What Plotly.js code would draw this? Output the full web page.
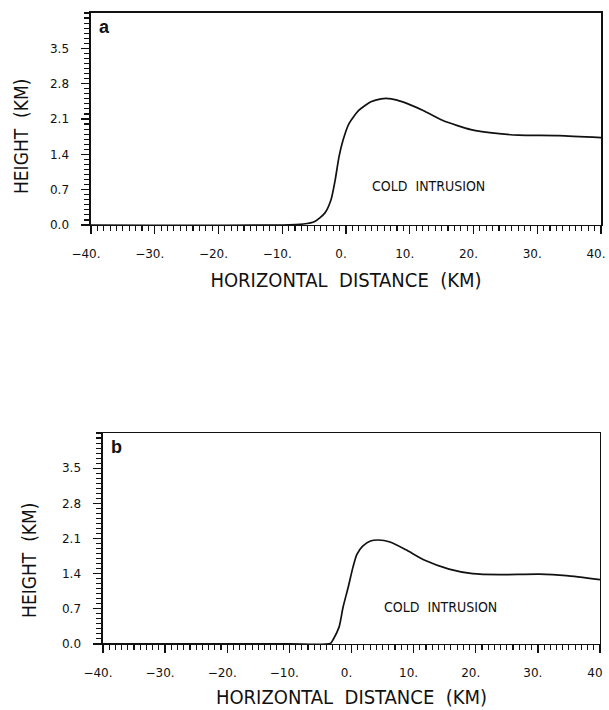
<!DOCTYPE html>
<html><head><meta charset="utf-8">
<script src="https://cdn.plot.ly/plotly-3.0.1.min.js"></script>
<style>body{margin:0;padding:0;background:#fff}#chart{width:609px;height:710px}</style>
</head><body><div id="chart"></div>
<script>
// Panel a: interface height (km) vs horizontal distance (km)
const xA = [-40, -10, -6.7, -4.9, -3.3, -2.35, -1.7, -1.1, -0.47, 0.47, 2.0, 3.9, 5.5, 7.1, 8.9, 12.1, 15.2, 19.6, 24.0, 27.1, 33.4, 40];
const yA = [0, 0, 0.02, 0.07, 0.24, 0.5, 0.89, 1.35, 1.68, 2.01, 2.27, 2.44, 2.50, 2.50, 2.44, 2.27, 2.07, 1.89, 1.81, 1.78, 1.77, 1.73];
// Panel b
const xB = [-40, -10, -3.4, -2.94, -1.99, -1.36, -0.54, 0.22, 0.85, 1.8, 3.06, 4.3, 6.2, 8.7, 11.9, 15.7, 19.5, 23.9, 30.2, 34.6, 40];
const yB = [0, 0, 0.01, 0.09, 0.34, 0.73, 1.125, 1.52, 1.78, 1.95, 2.05, 2.07, 2.03, 1.88, 1.66, 1.49, 1.40, 1.38, 1.39, 1.36, 1.28];

const xTickVals = [-40, -30, -20, -10, 0, 10, 20, 30, 40];
const xTickTextA = ['\u221240.', '\u221230.', '\u221220.', '\u221210.', '0.', '10.', '20.', '30.', '40.'];
const xTickTextB = ['\u221240.', '\u221230.', '\u221220.', '\u221210.', '0.', '10.', '20.', '30.', '40'];
const yTickVals = [0, 0.7, 1.4, 2.1, 2.8, 3.5];
const yTickText = ['0.0', '0.7', '1.4', '2.1', '2.8', '3.5'];
const xTitle = 'HORIZONTAL  DISTANCE  (KM)';
const yTitle = 'HEIGHT  (KM)';
const regionLabel = 'COLD  INTRUSION';

const narrow = 'DejaVu Sans Condensed, Liberation Sans Narrow, sans-serif';
const tickFamily = 'DejaVu Sans, sans-serif';
const ink = '#111';

function xax(domain, anchor, ticktext, standoff) {
  return {
    domain: domain, anchor: anchor, range: [-40, 40],
    tickmode: 'array', tickvals: xTickVals, ticktext: ticktext,
    ticks: 'outside', ticklen: 8, tickwidth: 1.3, tickcolor: ink,
    ticklabelstandoff: 9, ticklabelshift: -5, ticklabeloverflow: 'allow',
    minor: {tickmode: 'linear', tick0: 0, dtick: 1, ticks: 'outside', ticklen: 5, tickwidth: 1.1, tickcolor: ink},
    showline: true, linecolor: ink, linewidth: 1.5, mirror: true,
    showgrid: false, zeroline: false,
    tickfont: {family: tickFamily, size: 12, color: ink},
    title: {text: xTitle, font: {family: narrow, size: 20, color: ink}, standoff: standoff}
  };
}
function yax(domain, anchor) {
  return {
    domain: domain, anchor: anchor, range: [0, 4.2],
    tickmode: 'array', tickvals: yTickVals, ticktext: yTickText,
    ticks: 'outside', ticklen: 8, tickwidth: 1.3, tickcolor: ink,
    ticklabelstandoff: 10,
    minor: {tickmode: 'linear', tick0: 0, dtick: 0.1, ticks: 'outside', ticklen: 5, tickwidth: 1.1, tickcolor: ink},
    showline: true, linecolor: ink, linewidth: 1.5, mirror: true,
    showgrid: false, zeroline: false,
    tickfont: {family: tickFamily, size: 12, color: ink}
  };
}

const traces = [
  {x: xA, y: yA, xaxis: 'x', yaxis: 'y', mode: 'lines', line: {color: ink, width: 1.7, shape: 'spline', smoothing: 0.6}, showlegend: false},
  {x: xB, y: yB, xaxis: 'x2', yaxis: 'y2', mode: 'lines', line: {color: ink, width: 1.7, shape: 'spline', smoothing: 0.6}, showlegend: false}
];

const layout = {
  width: 609, height: 710,
  margin: {l: 0, r: 0, t: 0, b: 0},
  paper_bgcolor: '#fff', plot_bgcolor: '#fff',
  font: {family: narrow, color: ink},
  xaxis: xax([0.1494, 0.9869], 'y', xTickTextA, 13),
  yaxis: yax([0.6831, 0.9817], 'x'),
  xaxis2: xax([0.1691, 0.9852], 'y2', xTickTextB, 11),
  yaxis2: yax([0.0930, 0.3901], 'x2'),
  annotations: [
    {text: yTitle, xref: 'paper', yref: 'paper', x: 0.0345, y: 0.807, textangle: -90, showarrow: false, xanchor: 'center', yanchor: 'middle', font: {family: narrow, size: 19, color: ink}},
    {text: yTitle, xref: 'paper', yref: 'paper', x: 0.0476, y: 0.2113, textangle: -90, showarrow: false, xanchor: 'center', yanchor: 'middle', font: {family: narrow, size: 19, color: ink}},
    {text: '<b>a</b>', xref: 'x domain', yref: 'y domain', x: 0.012, y: 0.99, xanchor: 'left', yanchor: 'top', showarrow: false, font: {family: 'Liberation Sans, Arial, sans-serif', size: 18, color: ink}},
    {text: '<b>b</b>', xref: 'x2 domain', yref: 'y2 domain', x: 0.012, y: 0.99, xanchor: 'left', yanchor: 'top', showarrow: false, font: {family: 'Liberation Sans, Arial, sans-serif', size: 18, color: ink}},
    {text: regionLabel, xref: 'x', yref: 'y', x: 13, y: 0.77, showarrow: false, font: {family: narrow, size: 14, color: ink}},
    {text: regionLabel, xref: 'x2', yref: 'y2', x: 14.3, y: 0.73, showarrow: false, font: {family: narrow, size: 14, color: ink}}
  ]
};

Plotly.newPlot('chart', traces, layout, {displayModeBar: false, staticPlot: true});
</script>
</body></html>
